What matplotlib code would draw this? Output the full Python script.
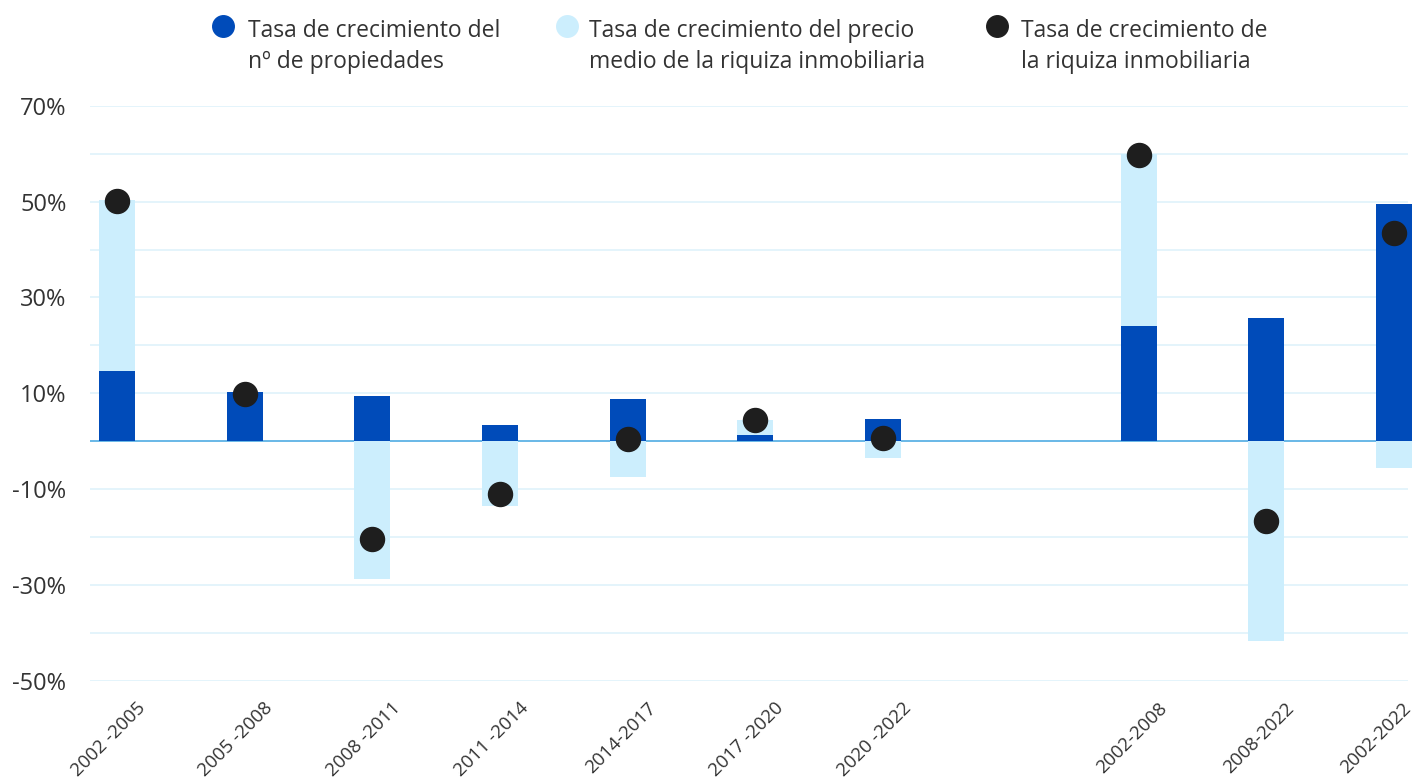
import numpy as np
import matplotlib
matplotlib.use("Agg")
import matplotlib.pyplot as plt
from matplotlib.lines import Line2D
from matplotlib.transforms import ScaledTranslation
from matplotlib.ticker import FixedLocator, MultipleLocator

plt.rcParams['font.family'] = ['Open Sans', 'DejaVu Sans']

# ---- data ----
categories = ["2002 -2005", "2005 -2008", "2008 -2011", "2011 -2014", "2014-2017",
              "2017 -2020", "2020 -2022", "", "2002-2008", "2008-2022", "2002-2022"]
n_propiedades = [14.7, 10.3, 9.4, 3.4, 8.8, 1.3, 4.6, np.nan, 24.0, 25.7, 49.5]
precio_medio = [35.6, 0.0, -28.7, -13.6, -7.4, 3.1, -3.4, np.nan, 36.0, -41.6, -5.5]
riqueza = [50.2, 9.9, -20.4, -11.0, 0.5, 4.5, 0.7, np.nan, 59.7, -16.6, 43.5]
ytick_values = [70, 50, 30, 10, -10, -30, -50]
legend_labels = ["Tasa de crecimiento del\nnº de propiedades",
                 "Tasa de crecimiento del precio\nmedio de la riquiza inmobiliaria",
                 "Tasa de crecimiento de\nla riquiza inmobiliaria"]

# ---- style ----
C_DARK = "#004BB9"
C_LIGHT = "#CCEEFD"
C_DOT = "#1E1E1E"
C_GRID = "#E2F3FB"
C_ZERO = "#55AEE3"
C_TEXT = "#333333"

W, H, DPI = 1413, 783, 100
fig = plt.figure(figsize=(W / DPI, H / DPI), dpi=DPI)
ax = fig.add_axes([90 / W, (H - 681) / H, (1408 - 90) / W, (681 - 105.7) / H])

x = np.arange(len(categories))
dark = np.array(n_propiedades, dtype=float)
light = np.array(precio_medio, dtype=float)
dots = np.array(riqueza, dtype=float)

bw = 0.282
light_bottom = np.where(light >= 0, np.where(dark >= 0, dark, 0), np.where(dark < 0, dark, 0))

ax.bar(x, dark, width=bw, color=C_DARK, zorder=3, clip_on=False, linewidth=0)
ax.bar(x, light, bottom=light_bottom, width=bw, color=C_LIGHT, zorder=3, clip_on=False, linewidth=0)
ax.plot(x, dots, linestyle="none", marker="o", markersize=17.3, color=C_DOT, zorder=5, clip_on=False)

ax.axhline(0, color=C_ZERO, linewidth=1.2, zorder=2)

ax.set_xlim(-0.211, 10.11)
ax.set_ylim(-50, 70)
ax.yaxis.set_major_locator(FixedLocator(ytick_values))
ax.yaxis.set_minor_locator(MultipleLocator(10))
ax.set_yticklabels([f"{v}%" for v in ytick_values])
ax.grid(True, which="both", axis="y", color=C_GRID, linewidth=1.3, zorder=0)
ax.set_axisbelow(True)
ax.tick_params(axis="y", which="both", length=0, pad=17, labelsize=17, labelcolor=C_TEXT)
for s in ax.spines.values():
    s.set_visible(False)

ax.set_xticks(x)
ax.set_xticklabels(categories, rotation=45, ha="right", va="top", rotation_mode="anchor",
                   fontsize=13.5, color=C_TEXT)
ax.tick_params(axis="x", length=0, pad=13)
labels = ax.get_xticklabels()
for i, lbl in enumerate(labels):
    dx = 8 if i == len(labels) - 1 else 19
    lbl.set_transform(lbl.get_transform() + ScaledTranslation(dx / DPI, 0, fig.dpi_scale_trans))

# ---- legend (manual) ----
marker_x = [223, 567, 997]
text_x = [248, 589, 1021]
colors = [C_DARK, C_LIGHT, C_DOT]
for mx, tx, c, lab in zip(marker_x, text_x, colors, legend_labels):
    fig.add_artist(Line2D([mx / W], [(H - 26) / H], marker="o", markersize=15.5, color=c,
                          linestyle="none", transform=fig.transFigure))
    fig.text(tx / W, (H - 19) / H, lab, ha="left", va="top", fontsize=16.5, color=C_TEXT,
             linespacing=1.4)

fig.savefig("out.png", dpi=DPI)
